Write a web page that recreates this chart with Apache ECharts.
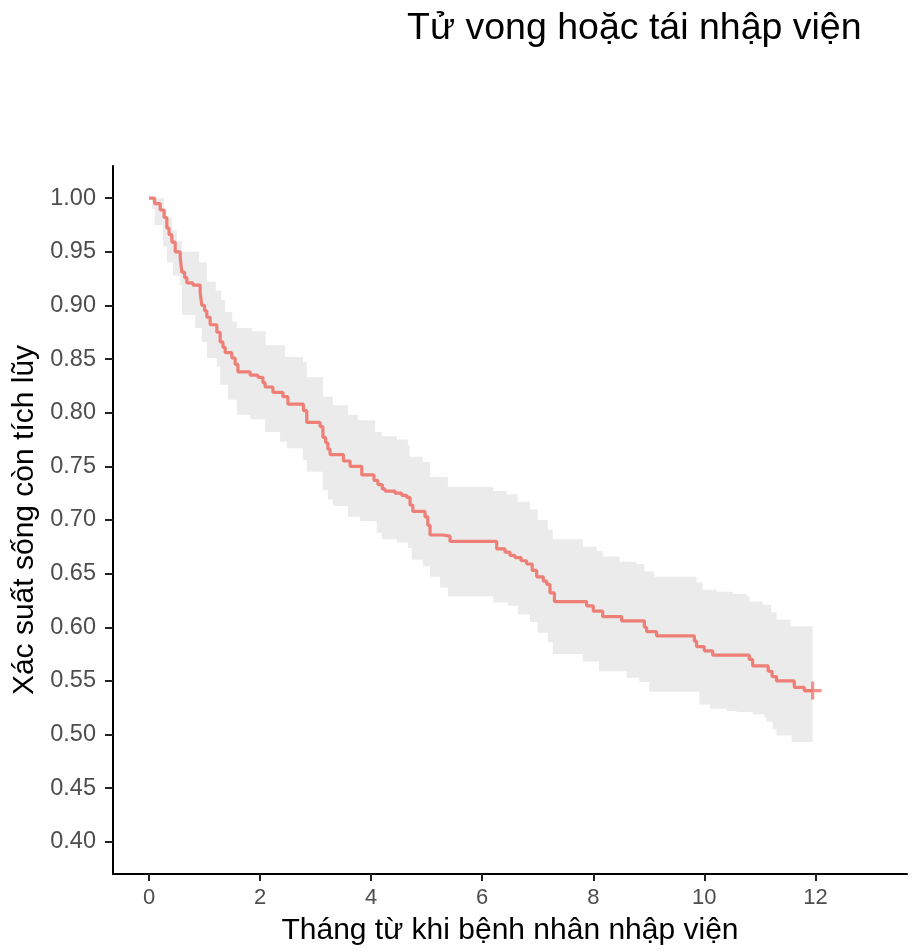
<!DOCTYPE html>
<html>
<head>
<meta charset="utf-8">
<script src="https://cdn.jsdelivr.net/npm/echarts@6/dist/echarts.min.js"></script>
<style>
  html, body { margin: 0; padding: 0; background: #ffffff; }
  #chart { width: 912px; height: 951px; }
</style>
</head>
<body>
<div id="chart"></div>
<script>
// Kaplan-Meier estimate: event times (months) and survival after each drop
const kmTime = [0, 0.1, 0.2, 0.27, 0.32, 0.36, 0.41, 0.47, 0.56, 0.59, 0.64, 0.68, 0.79, 0.92, 0.95, 1.0, 1.04, 1.1, 1.22, 1.28, 1.33, 1.37, 1.49, 1.55, 1.6, 1.82, 1.96, 2.05, 2.09, 2.23, 2.41, 2.5, 2.78, 2.84, 3.08, 3.13, 3.18, 3.22, 3.26, 3.5, 3.62, 3.83, 4.05, 4.12, 4.2, 4.25, 4.43, 4.55, 4.64, 4.7, 4.75, 4.97, 5.02, 5.06, 5.29, 5.42, 6.26, 6.41, 6.5, 6.59, 6.7, 6.8, 6.9, 6.98, 7.1, 7.16, 7.22, 7.3, 7.88, 8.0, 8.17, 8.51, 8.92, 8.96, 9.14, 9.82, 9.86, 10.0, 10.15, 10.81, 10.87, 11.15, 11.22, 11.3, 11.62, 11.8, 11.95];
const kmSurv = [1.0, 0.995, 0.989, 0.982, 0.972, 0.966, 0.959, 0.95, 0.945, 0.931, 0.926, 0.921, 0.919, 0.912, 0.9, 0.895, 0.889, 0.882, 0.875, 0.866, 0.861, 0.856, 0.851, 0.845, 0.838, 0.835, 0.833, 0.828, 0.824, 0.819, 0.815, 0.808, 0.802, 0.791, 0.787, 0.777, 0.772, 0.766, 0.761, 0.755, 0.75, 0.742, 0.737, 0.733, 0.729, 0.727, 0.725, 0.723, 0.721, 0.714, 0.708, 0.703, 0.695, 0.686, 0.685, 0.68, 0.673, 0.67, 0.667, 0.665, 0.662, 0.659, 0.653, 0.647, 0.643, 0.64, 0.632, 0.624, 0.62, 0.615, 0.61, 0.606, 0.6, 0.596, 0.592, 0.587, 0.582, 0.578, 0.574, 0.57, 0.564, 0.559, 0.554, 0.55, 0.544, 0.541, 0.541];

// Upper confidence limit (step function)
const upperTime = [0, 0.27, 0.32, 0.41, 0.5, 0.59, 0.9, 1.04, 1.2, 1.3, 1.37, 1.5, 1.58, 1.85, 2.1, 2.45, 2.77, 2.84, 3.13, 3.31, 3.58, 3.76, 4.07, 4.19, 4.46, 4.66, 4.69, 4.93, 5.06, 5.38, 6.2, 6.44, 6.64, 6.86, 7.0, 7.18, 7.27, 7.81, 8.06, 8.17, 8.47, 8.78, 8.92, 9.1, 9.86, 9.97, 10.22, 10.51, 10.76, 10.81, 11.05, 11.2, 11.3, 11.55, 11.95];
const upperVal = [1.0, 0.99, 0.982, 0.97, 0.96, 0.95, 0.94, 0.922, 0.914, 0.905, 0.894, 0.885, 0.879, 0.876, 0.863, 0.852, 0.847, 0.833, 0.815, 0.807, 0.798, 0.793, 0.782, 0.778, 0.775, 0.77, 0.759, 0.754, 0.74, 0.731, 0.727, 0.724, 0.717, 0.71, 0.7, 0.691, 0.682, 0.675, 0.671, 0.666, 0.661, 0.659, 0.652, 0.647, 0.642, 0.635, 0.633, 0.631, 0.629, 0.624, 0.621, 0.614, 0.607, 0.601, 0.601];

// Lower confidence limit (step function)
const lowerTime = [0, 0.05, 0.1, 0.25, 0.32, 0.43, 0.56, 0.59, 0.83, 0.95, 1.04, 1.22, 1.28, 1.42, 1.58, 1.82, 2.09, 2.36, 2.48, 2.77, 2.84, 3.13, 3.22, 3.31, 3.58, 3.8, 4.1, 4.19, 4.46, 4.66, 4.73, 4.93, 5.06, 5.24, 5.38, 6.2, 6.46, 6.64, 6.86, 7.0, 7.18, 7.27, 7.81, 8.1, 8.6, 8.83, 9.01, 9.91, 10.1, 10.4, 10.58, 10.87, 11.08, 11.12, 11.23, 11.3, 11.57, 11.95];
const lowerVal = [1.0, 0.99, 0.975, 0.955, 0.94, 0.928, 0.919, 0.891, 0.879, 0.866, 0.851, 0.843, 0.826, 0.812, 0.798, 0.794, 0.782, 0.773, 0.767, 0.756, 0.745, 0.728, 0.719, 0.713, 0.703, 0.699, 0.688, 0.682, 0.679, 0.674, 0.663, 0.657, 0.647, 0.637, 0.629, 0.623, 0.62, 0.612, 0.605, 0.595, 0.586, 0.575, 0.568, 0.559, 0.553, 0.549, 0.54, 0.528, 0.524, 0.522, 0.521, 0.519, 0.516, 0.512, 0.505, 0.499, 0.493, 0.491];

// Censored observation marker
const censorTime = [11.95];
const censorSurv = [0.541];

const xTicks = [0, 2, 4, 6, 8, 10, 12];
const yTicks = [0.40, 0.45, 0.50, 0.55, 0.60, 0.65, 0.70, 0.75, 0.80, 0.85, 0.90, 0.95, 1.00];

const titleText = 'Tử vong hoặc tái nhập viện';
const xName = 'Tháng từ khi bệnh nhân nhập viện';
const yName = 'Xác suất sống còn tích lũy';

const lineColor = '#EE7F76';
const FONT = "'Liberation Sans', Arial, sans-serif";

// Step outline of one confidence limit: holds each value until the next time
function stepPoints(times, vals) {
  const pts = [];
  for (let i = 0; i < times.length; i++) {
    pts.push([times[i], vals[i]]);
    if (i + 1 < times.length) pts.push([times[i + 1], vals[i]]);
  }
  return pts;
}

const chart = echarts.init(document.getElementById('chart'), null, { renderer: 'canvas' });

chart.setOption({
  backgroundColor: '#ffffff',
  animation: false,
  title: {
    text: titleText,
    left: 402,
    top: 5,
    textStyle: { fontFamily: FONT, fontSize: 37.5, fontWeight: 'normal', color: '#000000' }
  },
  grid: { left: 113, top: 166, width: 794, height: 709, containLabel: false },
  xAxis: {
    type: 'value',
    min: -0.65,
    max: 13.65,
    name: xName,
    nameLocation: 'middle',
    nameGap: 42,
    nameTextStyle: { fontFamily: FONT, fontSize: 30, color: '#000000' },
    splitLine: { show: false },
    axisLine: { show: true, onZero: false, lineStyle: { color: '#000000', width: 2 } },
    axisTick: { show: true, length: 7, customValues: xTicks, lineStyle: { color: '#222222', width: 2 } },
    axisLabel: {
      customValues: xTicks,
      margin: 13,
      fontFamily: FONT,
      fontSize: 22,
      color: '#4d4d4d',
      formatter: v => String(v)
    }
  },
  yAxis: {
    type: 'value',
    min: 0.37,
    max: 1.03,
    name: yName,
    nameLocation: 'middle',
    nameRotate: 90,
    nameGap: 72,
    nameTextStyle: { fontFamily: FONT, fontSize: 30, color: '#000000' },
    splitLine: { show: false },
    axisLine: { show: true, onZero: false, lineStyle: { color: '#000000', width: 2 } },
    axisTick: { show: true, length: 8, customValues: yTicks, lineStyle: { color: '#222222', width: 2 } },
    axisLabel: {
      customValues: yTicks,
      margin: 17,
      fontFamily: FONT,
      fontSize: 23.5,
      color: '#4d4d4d',
      formatter: v => v.toFixed(2)
    }
  },
  series: [
    {
      // confidence band
      type: 'custom',
      silent: true,
      z: 1,
      data: [[0, 1]],
      renderItem: function (params, api) {
        const up = stepPoints(upperTime, upperVal);
        const lo = stepPoints(lowerTime, lowerVal).reverse();
        const pts = up.concat(lo).map(p => api.coord(p));
        return {
          type: 'polygon',
          shape: { points: pts },
          style: { fill: '#ebebeb', stroke: null }
        };
      }
    },
    {
      type: 'line',
      step: 'end',
      z: 3,
      symbol: 'none',
      data: kmTime.map((t, i) => [t, kmSurv[i]]),
      lineStyle: { color: lineColor, width: 3.2 }
    },
    {
      type: 'scatter',
      z: 4,
      symbol: 'path://M-1.4,-8L1.4,-8L1.4,-1.4L8,-1.4L8,1.4L1.4,1.4L1.4,8L-1.4,8L-1.4,1.4L-8,1.4L-8,-1.4L-1.4,-1.4Z',
      symbolSize: 18,
      itemStyle: { color: '#F8766D' },
      data: censorTime.map((t, i) => [t, censorSurv[i]])
    }
  ]
});
</script>
</body>
</html>
